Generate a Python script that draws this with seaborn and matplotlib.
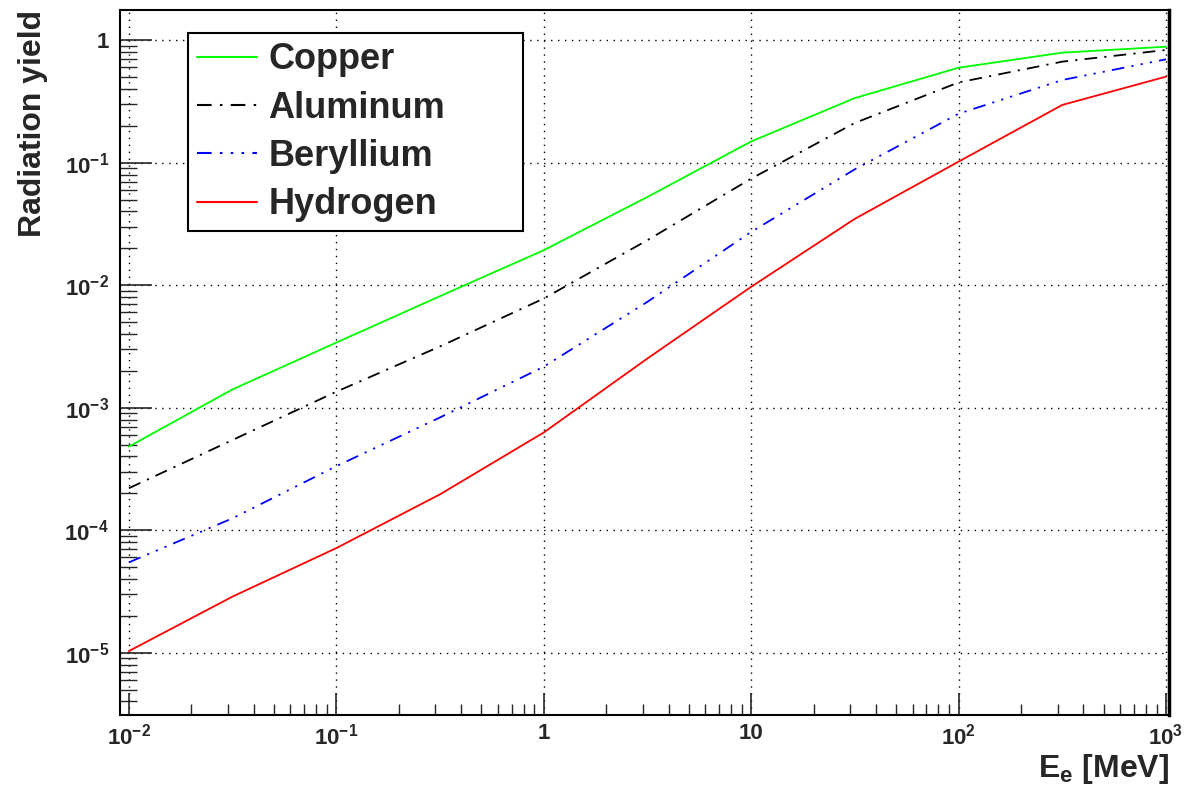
import numpy as np
import pandas as pd
import matplotlib
matplotlib.use("Agg")
import matplotlib.pyplot as plt
import seaborn as sns
from matplotlib.ticker import FixedLocator, LogLocator, FuncFormatter, NullFormatter

# ---- data ----
energy = [0.01, 0.0316, 0.1, 0.316, 1, 3.16, 10, 31.6, 100, 316, 1000]
copper = [4.81e-4, 1.41e-3, 3.40e-3, 8.13e-3, 1.93e-2, 5.25e-2, 0.149, 0.337, 0.596, 0.791, 0.885]
aluminum = [2.20e-4, 5.45e-4, 1.35e-3, 3.16e-3, 7.78e-3, 2.33e-2, 7.41e-2, 0.211, 0.452, 0.668, 0.832]
beryllium = [5.46e-5, 1.25e-4, 3.33e-4, 8.32e-4, 2.16e-3, 7.31e-3, 2.72e-2, 8.83e-2, 0.251, 0.473, 0.698]
hydrogen = [1.03e-5, 2.87e-5, 7.14e-5, 1.96e-4, 6.27e-4, 2.52e-3, 9.70e-3, 3.48e-2, 0.102, 0.296, 0.504]
materials = ["Copper", "Aluminum", "Beryllium", "Hydrogen"]
x_ticks = [1e-2, 1e-1, 1, 10, 1e2, 1e3]
y_ticks = [1e-5, 1e-4, 1e-3, 1e-2, 1e-1, 1]

series = {"Copper": copper, "Aluminum": aluminum, "Beryllium": beryllium, "Hydrogen": hydrogen}
df = pd.DataFrame([
    {"E": e, "yield": v, "Material": m}
    for m in materials for e, v in zip(energy, series[m])
])

sns.set_style("white")
plt.rcParams["font.family"] = ["Liberation Sans", "DejaVu Sans"]
plt.rcParams["font.weight"] = "bold"
plt.rcParams["mathtext.fontset"] = "custom"
plt.rcParams["mathtext.rm"] = "Liberation Sans:bold"
plt.rcParams["mathtext.it"] = "Liberation Sans:bold"
plt.rcParams["mathtext.bf"] = "Liberation Sans:bold"

fig = plt.figure(figsize=(11.92, 7.89), dpi=100)
ax = fig.add_axes([120/1192, 1-715/789, (1169-120)/1192, (715-10)/789])

palette = {"Copper": "#00ff00", "Aluminum": "#000000", "Beryllium": "#0000ff", "Hydrogen": "#ff0000"}
dashes = {"Copper": "", "Aluminum": (7, 4, 1.2, 4), "Beryllium": (7, 4, 1.2, 4, 1.2, 4, 1.2, 4), "Hydrogen": ""}

sns.lineplot(data=df, x="E", y="yield", hue="Material", style="Material",
             hue_order=materials, style_order=materials,
             palette=palette, dashes=dashes, linewidth=1.3, ax=ax, legend=True)

ax.set_xscale("log")
ax.set_yscale("log")
ax.set_xlim(10**-2.043, 10**3.0145)
ax.set_ylim(10**-5.509, 10**0.2465)


def fmt(v, pos):
    k = int(round(np.log10(v)))
    if k == 0:
        return "1"
    if k == 1:
        return "10"
    return r"$10^{%d}$" % k


ax.xaxis.set_major_locator(FixedLocator(x_ticks))
ax.yaxis.set_major_locator(FixedLocator(y_ticks))
ax.xaxis.set_major_formatter(FuncFormatter(fmt))
ax.yaxis.set_major_formatter(FuncFormatter(fmt))
ax.xaxis.set_minor_locator(LogLocator(base=10, subs=np.arange(2, 10), numticks=20))
ax.yaxis.set_minor_locator(LogLocator(base=10, subs=np.arange(2, 10), numticks=20))
ax.xaxis.set_minor_formatter(NullFormatter())
ax.yaxis.set_minor_formatter(NullFormatter())

ax.tick_params(axis="x", which="major", direction="in", length=16, width=1.2,
               labelsize=16, pad=6, bottom=True, top=False)
ax.tick_params(axis="x", which="minor", direction="in", length=8, width=1.0,
               bottom=True, top=False)
ax.tick_params(axis="y", which="major", direction="in", length=23, width=1.2,
               labelsize=16, pad=8, left=True, right=False)
ax.tick_params(axis="y", which="minor", direction="in", length=12, width=1.0,
               left=True, right=False)

ax.grid(True, which="major", color="black", linestyle=(0, (1, 4)), linewidth=1.0)
for s in ax.spines.values():
    s.set_visible(True)
    s.set_color("black")
    s.set_linewidth(1.5)
ax.spines["right"].set_linewidth(2.5)

ax.set_xlabel(r"E$_e$ [MeV]", fontsize=23, fontweight="bold", loc="right", labelpad=2)
ax.set_ylabel("Radiation yield", fontsize=23, fontweight="bold", loc="top", labelpad=12)

handles, labels = ax.get_legend_handles_labels()
leg = ax.legend(handles, labels, loc="upper left", mode="expand",
                bbox_to_anchor=(0.0648, 0.5, 0.3194, 0.467),
                borderaxespad=0, prop={"weight": "bold", "size": 26},
                frameon=True, fancybox=False, handlelength=1.65, handletextpad=0.33,
                labelspacing=0.37, borderpad=0.25)
leg.get_frame().set_edgecolor("black")
leg.get_frame().set_linewidth(1.5)
leg.get_frame().set_alpha(1)
for h in leg.get_lines():
    h.set_linewidth(1.5)

fig.savefig("out.png", dpi=100, facecolor="white")
